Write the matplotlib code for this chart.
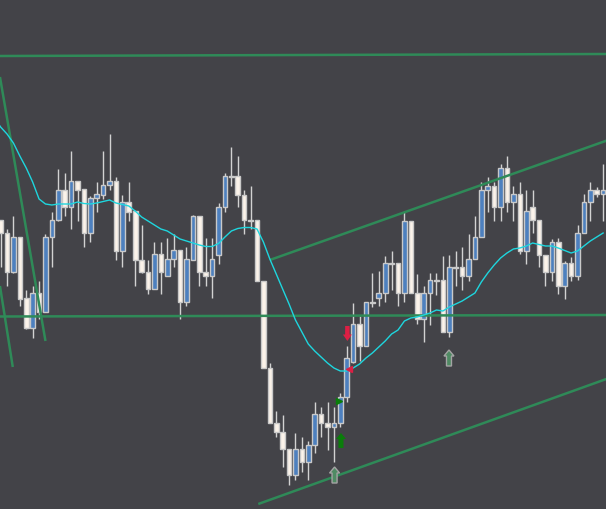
import matplotlib
matplotlib.use("Agg")
import matplotlib.pyplot as plt
import numpy as np

# ---------------- data (price units) ----------------
opens = [289, 276, 237, 272, 211, 181, 216, 197, 272, 289, 319, 302, 328, 320, 276, 311, 314, 324, 328, 258,
         307, 298, 249, 237, 220, 255, 233, 250, 259, 207, 249, 293, 237, 233, 254, 302, 333, 333, 314, 289,
         289, 228, 141, 86, 77, 60, 34, 60, 47, 64, 95, 86, 82, 86, 112, 147, 185, 163, 207, 211,
         216, 246, 246, 216, 288, 216, 190, 216, 229, 229, 177, 242, 242, 233, 250, 272, 319.5, 323.5, 302, 341,
         307, 315, 258, 302, 289, 254, 237, 267.5, 223, 246, 233, 276, 307, 319, 315]
highs = [289, 280, 293, 272, 219, 223, 228, 275, 297, 340, 336, 358, 328, 320, 313, 327, 358, 375, 332, 314,
         327, 298, 284, 249, 267, 267, 271, 275, 259, 262, 294, 293, 271, 271, 306, 336, 362, 353, 319, 323,
         289, 228, 146, 98, 94, 60, 76, 72, 68, 107, 102, 107, 102, 116, 163, 206, 193, 207, 236, 238,
         253, 258, 246, 297, 288, 235, 223, 236, 236, 253, 254, 258, 262, 275, 293, 327, 332, 327, 345, 353,
         323, 327, 319, 319, 289, 254, 270, 271.5, 248, 252, 284, 315, 327, 322, 345]
lows = [242, 223, 236, 203, 180, 171, 190, 197, 242, 288, 293, 280, 288, 262, 267, 297, 310, 319, 249, 242,
        288, 223, 236, 215, 220, 215, 233, 242, 190, 203, 249, 223, 223, 211, 245, 297, 323, 302, 275, 280,
        228, 141, 86, 72, 42, 24, 29, 37, 29, 56, 72, 59, 47, 82, 107, 146, 148, 163, 202, 203,
        207, 219, 203, 207, 216, 185, 167, 184, 214, 177, 172, 223, 219, 228, 250, 272, 297, 288, 288, 297,
        288, 255, 245, 276, 242, 223, 228, 215, 210, 228, 229, 276, 288, 312, 288]
closes = [276, 237, 272, 210, 181, 216, 197, 272, 289, 319, 302, 328, 319, 276, 311, 315, 324, 328, 258, 307,
          297, 249, 237, 220, 255, 237, 250, 259, 207, 250, 293, 237, 233, 250, 302, 333, 332.5, 314, 289, 288.5,
          228, 141, 86, 77, 60, 34, 60, 47, 64, 95, 86, 82, 86, 112, 151, 185, 163, 207, 206.5, 216,
          246, 245.5, 216, 288, 216, 190, 216, 229, 228.5, 177, 242, 241.5, 233, 250, 272, 319.5, 323.5, 302, 341, 307,
          315, 258, 298, 289, 254, 237, 267.5, 223, 246, 233, 276, 307, 319, 315, 319]
moving_avg = [382, 375, 366, 353, 341, 327, 310, 305, 304, 305, 305, 305, 307, 305.5, 305, 306, 307.5, 309, 306, 304.5,
              303, 298, 292, 288, 284, 280, 278, 274, 270, 268, 266, 264, 262.5, 262.5, 265.5, 272, 278, 280.5, 281.5, 281.5,
              280, 267, 250, 235, 220, 205, 189, 177, 165, 158, 152, 146, 141, 138, 138, 141, 145, 151, 156, 162,
              168, 175, 179, 188, 191, 192, 194, 196, 199, 198, 202, 205, 208, 212, 216, 227, 236, 244, 251, 256,
              260, 261, 263, 266, 264.5, 263, 263, 261, 258.5, 256, 258, 263, 268, 272, 276]

# trend lines: (start index, start price, end index, end price)
trend_lines = [(-0.1, 453, 94.5, 455),
               (-0.1, 192.5, 94.5, 194),
               (-0.1, 432, 7.0, 168),
               (-0.1, 223, 1.9, 142),
               (42.0, 249, 94.5, 368.3),
               (40.2, 5, 94.5, 130)]

# signal arrows: index, tip price, direction
buy_signals_idx = [53.1]
buy_signals_tip = [76]
sell_signals_idx = [54.1]
sell_signals_tip = [168]
hint_signals_idx = [52.1, 69.95]
hint_signals_tip = [42, 159]
small_buy_idx, small_buy_price = 52.75, 108
small_sell_idx, small_sell_price = 54.4, 140

# ---------------- style ----------------
BG = '#434348'
BULL = '#4d80bf'
BEAR = '#fbf3ea'
EDGE = '#c9c9c9'
WICK = '#d2d2d2'
GREEN_LINE = '#2f8a58'
MA_COLOR = '#1ed6de'
PX = 6.41  # pixels per candle

fig = plt.figure(figsize=(6.06, 5.10), dpi=100)
fig.patch.set_facecolor(BG)
ax = fig.add_axes([0, 0, 1, 1])
ax.set_facecolor(BG)
ax.set_xlim(-0.6 / PX, (606 - 0.6) / PX)
ax.set_ylim(0, 510)
ax.axis('off')

idx = np.arange(len(opens))
o = np.array(opens, float); h = np.array(highs, float)
l = np.array(lows, float); c = np.array(closes, float)
up = c >= o

ax.vlines(idx, l, h, color=WICK, lw=1.0, zorder=2)
bottoms = np.minimum(o, c)
heights = np.maximum(np.abs(c - o), 0.4)
colors = np.where(up, BULL, BEAR)
ax.bar(idx, heights, bottom=bottoms, width=0.72, color=colors, edgecolor=EDGE,
       linewidth=1.0, zorder=3)

ax.plot(np.concatenate([[-0.1], idx]), np.concatenate([[moving_avg[0] + 1], moving_avg]),
        color=MA_COLOR, lw=1.0, zorder=5)

for x0, y0, x1, y1 in trend_lines:
    ax.plot([x0, x1], [y0, y1], color=GREEN_LINE, lw=1.8, zorder=4, solid_capstyle='butt')


def arrow(xc, tip, direction, length, head_w, shaft_w, head_l, face, edge=None, lw=0):
    s = 1 if direction == 'up' else -1
    hw = head_w / PX / 2
    sw = shaft_w / PX / 2
    base = tip - s * head_l
    tail = tip - s * length
    xs = [xc, xc + hw, xc + sw, xc + sw, xc - sw, xc - sw, xc - hw]
    ys = [tip, base, base, tail, tail, base, base]
    ax.fill(xs, ys, facecolor=face, edgecolor=edge if edge else face, lw=lw, zorder=6)


for xi, t in zip(buy_signals_idx, buy_signals_tip):
    arrow(xi, t, 'up', 15, 10, 5, 6, '#0a7d0a')
for xi, t in zip(sell_signals_idx, sell_signals_tip):
    arrow(xi, t, 'down', 15, 9, 4.5, 6.5, '#dc1f44')
for xi, t in zip(hint_signals_idx, hint_signals_tip):
    arrow(xi, t, 'up', 16, 10, 5, 6, '#4f8a63', edge='#a4a4a4', lw=1.0)

ax.plot([small_buy_idx], [small_buy_price], marker='>', ms=5, color='#0a7d0a', zorder=6, lw=0)
ax.plot([small_sell_idx], [small_sell_price], marker='<', ms=5, color='#dc1f44', zorder=6, lw=0)

fig.savefig('out.png', dpi=100, facecolor=BG)
